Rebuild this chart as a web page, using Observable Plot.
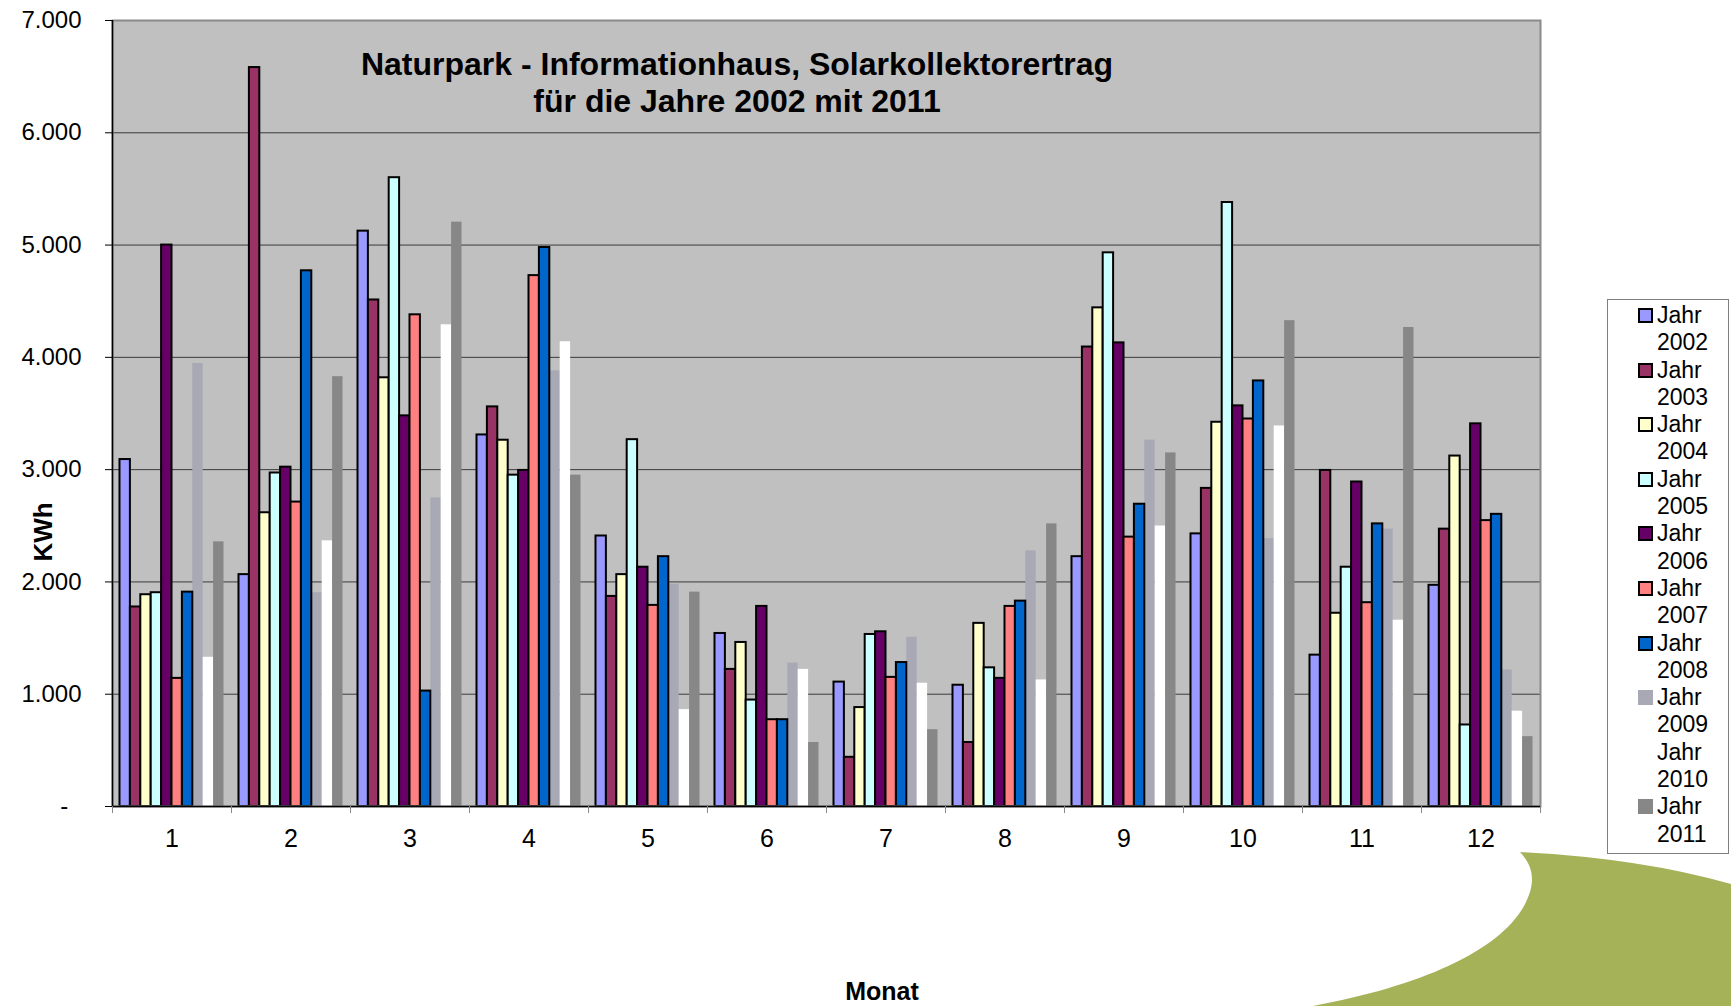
<!DOCTYPE html>
<html>
<head>
<meta charset="utf-8">
<script src="https://cdn.jsdelivr.net/npm/d3@7"></script>
<script src="https://cdn.jsdelivr.net/npm/@observablehq/plot@0.6"></script>
<style>
  html, body { margin: 0; padding: 0; background: #fff; overflow: hidden; }
  #wrap { position: relative; width: 1731px; height: 1006px; font-family: "Liberation Sans", Arial, Helvetica, sans-serif; color: #000; }
  #chart svg { display: block; }
  .title { position: absolute; left: 337px; top: 46px; width: 800px; text-align: center; font-weight: bold; font-size: 32px; line-height: 37px; white-space: nowrap; }
  .xlabel { position: absolute; left: 782px; top: 979px; width: 200px; text-align: center; font-weight: bold; font-size: 25px; line-height: 25px; }
  .ylabel { position: absolute; left: 43px; top: 532px; transform: translate(-50%, -50%) rotate(-90deg); font-weight: bold; font-size: 26px; line-height: 26px; white-space: nowrap; }
  .legend { position: absolute; left: 1607px; top: 299px; width: 122px; height: 555px; box-sizing: border-box; border: 1px solid #7f7f7f; background: #fff; padding-top: 2px; }
  .legend .item { display: flex; height: 54.6px; }
  .legend .sw { width: 15px; height: 15px; box-sizing: border-box; margin-left: 30px; margin-top: 6px; flex: none; }
  .legend .lab { margin-left: 4px; width: 62px; font-size: 23px; line-height: 27.3px; }
  .deco { position: absolute; left: 0; top: 0; pointer-events: none; }
</style>
</head>
<body>
<div id="wrap">
  <div id="chart"></div>
</div>
<script>
// ---------- data ----------
const months = [1, 2, 3, 4, 5, 6, 7, 8, 9, 10, 11, 12];
const years = ["Jahr 2002", "Jahr 2003", "Jahr 2004", "Jahr 2005", "Jahr 2006",
               "Jahr 2007", "Jahr 2008", "Jahr 2009", "Jahr 2010", "Jahr 2011"];
const yTicks = [0, 1000, 2000, 3000, 4000, 5000, 6000, 7000];

const jahr2002 = [3090, 2065, 5124, 3309, 2409, 1541, 1108, 1080, 2225, 2428, 1348, 1970];
const jahr2003 = [1777, 6581, 4511, 3559, 1871, 1221, 438, 570, 4092, 2833, 2993, 2470];
const jahr2004 = [1886, 2616, 3818, 3262, 2065, 1461, 881, 1631, 4441, 3422, 1721, 3121];
const jahr2005 = [1904, 2970, 5600, 2951, 3267, 948, 1532, 1235, 4931, 5379, 2131, 726];
const jahr2006 = [5000, 3022, 3479, 2993, 2131, 1782, 1556, 1141, 4129, 3568, 2890, 3408];
const jahr2007 = [1141, 2711, 4379, 4728, 1791, 773, 1150, 1782, 2399, 3451, 1815, 2546];
const jahr2008 = [1909, 4771, 1028, 4978, 2225, 773, 1282, 1829, 2692, 3790, 2517, 2602];
const jahr2009 = [3946, 1904, 2748, 3880, 1980, 1277, 1508, 2277, 3262, 2385, 2470, 1216];
const jahr2010 = [1329, 2366, 4290, 4139, 863, 1221, 1098, 1127, 2498, 3389, 1659, 849];
const jahr2011 = [2357, 3828, 5204, 2951, 1909, 570, 684, 2517, 3149, 4327, 4266, 622];

const series = [jahr2002, jahr2003, jahr2004, jahr2005, jahr2006,
                jahr2007, jahr2008, jahr2009, jahr2010, jahr2011];

// ---------- styles ----------
const colors = ["#9999ff", "#993366", "#ffffcc", "#ccffff", "#660066",
                "#ff8080", "#0066cc", "#a9a9b5", "#ffffff", "#878787"];
const outlined = [true, true, true, true, true, true, true, false, false, false];

// ---------- table ----------
const table = [];
series.forEach((vals, i) => {
  vals.forEach((v, m) => table.push({month: months[m], year: years[i], i, value: v, outlined: outlined[i]}));
});

const groupWidth = 0.874;               // share of one month slot used by the bar group
const barW = groupWidth / years.length;
const x1 = d => d.month - groupWidth / 2 + d.i * barW;
const x2 = d => d.month - groupWidth / 2 + (d.i + 1) * barW;

const fmt = d => d === 0 ? "-\u00a0\u00a0" : d3.format(",")(d).replace(/,/g, ".");
const boundaries = d3.range(months[0] - 0.5, months[months.length - 1] + 1, 1);

const chart = Plot.plot({
  width: 1731,
  height: 1006,
  marginLeft: 112,
  marginRight: 191,
  marginTop: 20,
  marginBottom: 200,
  style: {fontFamily: "'Liberation Sans', Arial, Helvetica, sans-serif", color: "#000", background: "transparent"},
  x: {domain: [months[0] - 0.5, months[months.length - 1] + 0.5]},
  y: {domain: [0, 7000]},
  color: {domain: years, range: colors},
  marks: [
    Plot.frame({fill: "#c0c0c0", stroke: null}),
    Plot.gridY({ticks: yTicks, stroke: "#3a3a3a", strokeOpacity: 1, strokeWidth: 1}),
    Plot.rectY(table.filter(d => !d.outlined), {x1, x2, y: "value", fill: "year"}),
    Plot.rectY(table.filter(d => d.outlined), {x1, x2, y: "value", fill: "year", stroke: "#000", strokeWidth: 2}),
    Plot.frame({stroke: "#8a8a8a", strokeWidth: 2}),
    Plot.ruleX([months[0] - 0.5], {stroke: "#000", strokeWidth: 1.5}),
    Plot.ruleY([0], {stroke: "#000", strokeWidth: 1.5}),
    Plot.axisY({ticks: yTicks, tickSize: 7, tickPadding: 24, fontSize: 24, tickFormat: fmt, label: null}),
    Plot.axisX({ticks: months, tickSize: 0, tickPadding: 23, fontSize: 25, tickFormat: d => String(d), label: null}),
    Plot.axisX({ticks: boundaries, tickSize: 7, tickFormat: () => "", label: null, stroke: "#888"})
  ]
});
document.getElementById("chart").appendChild(chart);

const wrap = d3.select("#wrap");

// decorative corner swoosh
wrap.append("svg").attr("class", "deco").attr("width", 1731).attr("height", 1006)
  .append("path")
  .attr("d", "M1520,852 Q1640,858 1731,884 L1731,1006 L1313,1006 C1420,986 1498,952 1524,906 C1537,882 1533,866 1520,852 Z")
  .attr("fill", "#a6b258");

// title & axis labels
wrap.append("div").attr("class", "title")
  .html("Naturpark - Informationhaus, Solarkollektorertrag<br>für die Jahre 2002 mit 2011");
wrap.append("div").attr("class", "xlabel").text("Monat");
wrap.append("div").attr("class", "ylabel").text("KWh");

// legend
const legend = wrap.append("div").attr("class", "legend");
years.forEach((y, i) => {
  const item = legend.append("div").attr("class", "item");
  item.append("div").attr("class", "sw")
    .style("background", colors[i])
    .style("border", outlined[i] ? "2px solid #000" : "none");
  item.append("div").attr("class", "lab").text(y);
});
</script>
</body>
</html>
